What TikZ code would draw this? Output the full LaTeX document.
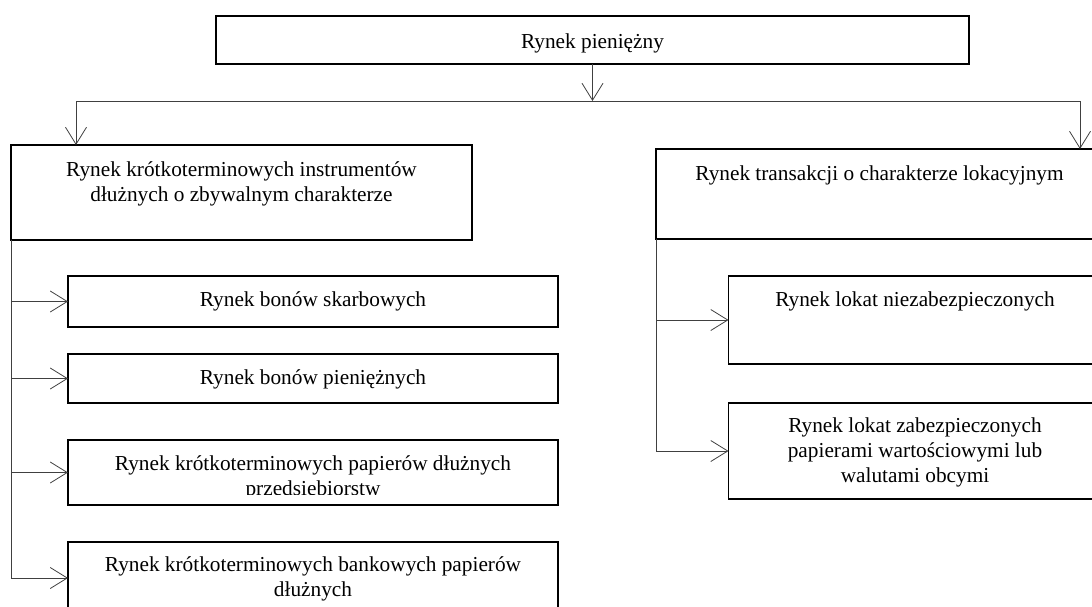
\documentclass[tikz,border=0pt]{standalone}
\usepackage{fontspec}
\setmainfont{Liberation Serif}
\usetikzlibrary{arrows.meta}
\begin{document}
\begin{tikzpicture}[x=1pt,y=-1pt,
  box/.style={draw=black, line width=1.3pt, inner sep=0pt, outer sep=0pt, anchor=north west},
  lbl/.style={anchor=base, align=center, inner sep=0pt, font=\fontsize{21.3}{25}\selectfont},
  conn/.style={draw=black!75, line width=0.8pt},
  arr/.style={conn, -{Straight Barb[length=17pt,width=21pt]}}]
\useasboundingbox (0,0) rectangle (1092,606);
\clip (0,0) rectangle (1092,606);

% boxes
\node[box, minimum width=753, minimum height=48] (top) at (216,16) {};
\node[box, minimum width=461, minimum height=95] (L1) at (11,145) {};
\node[box, minimum width=447, minimum height=90] (R1) at (656,149) {};
\node[box, minimum width=490, minimum height=51] (A) at (68,276) {};
\node[box, minimum width=490, minimum height=49] (B) at (68,354) {};
\node[box, minimum width=490, minimum height=65] (C) at (68,440) {};
\node[box, minimum width=490, minimum height=72] (D) at (68,542) {};
\node[box, minimum width=374, minimum height=88] (E) at (728.5,276) {};
\node[box, minimum width=374, minimum height=96] (F) at (728.5,403) {};

% labels (the base of a multi-line label is its last line)
\node[lbl] (topt) at (592.5,48) {Rynek pieniężny};
\node[lbl] (L1t) at (241.5,201) {Rynek krótkoterminowych instrumentów\\dłużnych o zbywalnym charakterze};
\node[lbl] (R1t) at (879.5,180) {Rynek transakcji o charakterze lokacyjnym};
\node[lbl] (At) at (313,306) {Rynek bonów skarbowych};
\node[lbl] (Bt) at (313,384.5) {Rynek bonów pieniężnych};
\begin{scope}
  \clip (68,440) rectangle (558,494.5);
  \node[lbl] (Ct) at (313,495.5) {Rynek krótkoterminowych papierów dłużnych\\przedsiębiorstw};
\end{scope}
\node[lbl] (Dt) at (313,596) {Rynek krótkoterminowych bankowych papierów\\dłużnych};
\node[lbl] (Et) at (915,306) {Rynek lokat niezabezpieczonych};
\node[lbl] (Ft) at (915,482.5) {Rynek lokat zabezpieczonych\\papierami wartościowymi lub\\walutami obcymi};

% connectors
\coordinate (busL) at (76,101);
\coordinate (busR) at (1080,101);
\draw[arr] (top.south) -- (top.south |- busL);
\draw[conn] (busL) -- (busR);
\draw[arr] (busL) -- (busL |- L1.north);
\draw[arr] (busR) -- (busR |- R1.north);

\draw[conn] (L1.south west) -- (L1.south west |- D.west);
\draw[arr] (L1.south west |- A.west) -- (A.west);
\draw[arr] (L1.south west |- B.west) -- (B.west);
\draw[arr] (L1.south west |- C.west) -- (C.west);
\draw[arr] (L1.south west |- D.west) -- (D.west);

\draw[conn] (R1.south west) -- (R1.south west |- F.west);
\draw[arr] (R1.south west |- E.west) -- (E.west);
\draw[arr] (R1.south west |- F.west) -- (F.west);
\end{tikzpicture}
\end{document}
